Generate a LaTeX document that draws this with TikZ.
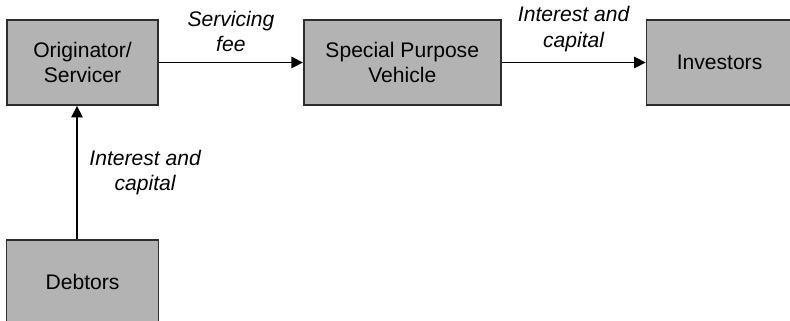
\documentclass[tikz,border=0pt]{standalone}
\usepackage{fontspec}
\setmainfont{Liberation Sans}
\usetikzlibrary{arrows.meta, positioning}

\definecolor{boxgray}{RGB}{179,179,179}
\definecolor{edgegray}{RGB}{45,45,45}

\tikzset{
  party/.style={draw=edgegray, fill=boxgray, line width=1pt, minimum height=1.7cm,
    align=center, font=\fontsize{12}{14.4}\selectfont},
  flow/.style={-{Triangle[length=0.23cm, width=0.23cm]}, line width=0.7pt},
  flowlabel/.style={align=center, font=\fontsize{12}{14.4}\selectfont\itshape}
}

\begin{document}
\begin{tikzpicture}
    \useasboundingbox (0,0) rectangle (15.8,6.4);
    \node[party, minimum width=3.02cm] (orig) at (1.65,5.15) {Originator/\\Servicer};
    \node[party, minimum width=3.94cm] [right=2.88cm of orig] (spv) {Special Purpose\\Vehicle};
    \node[party, minimum width=2.92cm] [right=2.88cm of spv] (inv) {Investors};
    \node[party, minimum width=3.04cm] [below=2.66cm of orig] (debt) {Debtors};

    \draw[flow] (orig) -- (spv)
    node[flowlabel, midway, above=2.5pt] {Servicing\\fee};
    \draw[flow] (spv) -- (inv)
    node[flowlabel, midway, above=2.5pt] {Interest and\\capital};
    \draw[flow] ([xshift=-0.11cm]debt.north) -- ([xshift=-0.11cm]orig.south)
    node[flowlabel, midway, right=0.12cm] {Interest and\\capital};
  \end{tikzpicture}
\end{document}
